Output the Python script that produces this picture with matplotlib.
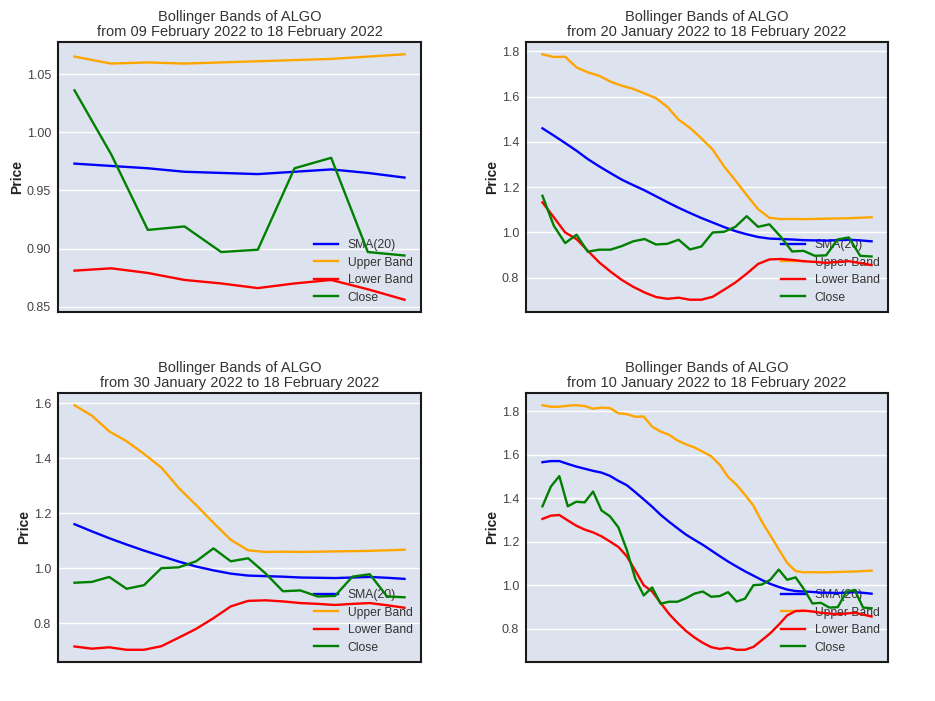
import matplotlib
matplotlib.use("Agg")
import matplotlib.pyplot as plt
import numpy as np

plt.rcParams['font.family'] = ['Liberation Sans', 'DejaVu Sans']

# 40 trading days, 10 Jan 2022 .. 18 Feb 2022
close = [1.363, 1.454, 1.502, 1.363, 1.384, 1.381, 1.431, 1.344, 1.317, 1.266,
         1.162, 1.030, 0.953, 0.990, 0.915, 0.924, 0.924, 0.940, 0.961, 0.971,
         0.947, 0.950, 0.968, 0.925, 0.938, 1.000, 1.003, 1.025, 1.072, 1.025,
         1.036, 0.981, 0.916, 0.919, 0.897, 0.899, 0.969, 0.978, 0.897, 0.894]
sma20 = [1.566, 1.571, 1.571, 1.558, 1.546, 1.536, 1.526, 1.518, 1.503, 1.480,
         1.460, 1.428, 1.395, 1.361, 1.324, 1.292, 1.262, 1.233, 1.209, 1.186,
         1.160, 1.134, 1.109, 1.086, 1.064, 1.044, 1.024, 1.006, 0.992, 0.980,
         0.973, 0.971, 0.969, 0.966, 0.965, 0.964, 0.966, 0.968, 0.965, 0.961]
upper = [1.828, 1.821, 1.821, 1.826, 1.828, 1.824, 1.812, 1.817, 1.815, 1.791,
         1.787, 1.775, 1.776, 1.729, 1.707, 1.692, 1.666, 1.648, 1.634, 1.614,
         1.593, 1.555, 1.498, 1.462, 1.416, 1.366, 1.292, 1.230, 1.165, 1.103,
         1.065, 1.059, 1.060, 1.059, 1.060, 1.061, 1.062, 1.063, 1.065, 1.067]
lower = [1.305, 1.320, 1.323, 1.298, 1.274, 1.256, 1.243, 1.225, 1.201, 1.176,
         1.133, 1.067, 1.000, 0.971, 0.919, 0.868, 0.827, 0.790, 0.760, 0.735,
         0.715, 0.707, 0.712, 0.703, 0.703, 0.716, 0.747, 0.779, 0.818, 0.861,
         0.881, 0.883, 0.879, 0.873, 0.870, 0.866, 0.870, 0.873, 0.865, 0.856]

panel_days = [10, 30, 20, 40]
panel_starts = ["09 February 2022", "20 January 2022", "30 January 2022", "10 January 2022"]
end_date = "18 February 2022"
series_labels = ["SMA(20)", "Upper Band", "Lower Band", "Close"]
series_colors = ["blue", "orange", "red", "green"]

W, H = 935, 701
fig = plt.figure(figsize=(W / 100, H / 100), dpi=100)
fig.patch.set_facecolor('white')

boxes = [(58, 42, 421, 312), (526, 42, 888, 312), (58, 393, 421, 662), (526, 393, 888, 662)]

for (x0, y0, x1, y1), n, start in zip(boxes, panel_days, panel_starts):
    ax = fig.add_axes([x0 / W, 1 - y1 / H, (x1 - x0) / W, (y1 - y0) / H])
    ax.set_facecolor('#dde3ee')
    xs = np.arange(n)
    data = [sma20[-n:], upper[-n:], lower[-n:], close[-n:]]
    for d, lab, col in zip(data, series_labels, series_colors):
        ax.plot(xs, d, color=col, lw=1.7, label=lab, zorder=3)
    ax.grid(axis='y', color='white', lw=1.0)
    ax.set_axisbelow(True)
    ax.set_xticks([])
    ax.tick_params(axis='y', length=0, labelsize=9, labelcolor='#444444', pad=5)
    for s in ax.spines.values():
        s.set_color('#1a1a1a')
        s.set_linewidth(1.5)
    ax.set_ylabel('Price', fontsize=10, fontweight='bold', color='#222222', labelpad=2)
    ax.set_title(f"Bollinger Bands of ALGO\nfrom {start} to {end_date}",
                 fontsize=10.5, color='#333333', pad=4, linespacing=1.1)
    leg = ax.legend(loc='lower right', frameon=False, fontsize=8.7,
                    labelcolor='#333333', borderaxespad=0.3, labelspacing=0.45)
    leg.set_zorder(1)

fig.savefig('out.png', dpi=100)
